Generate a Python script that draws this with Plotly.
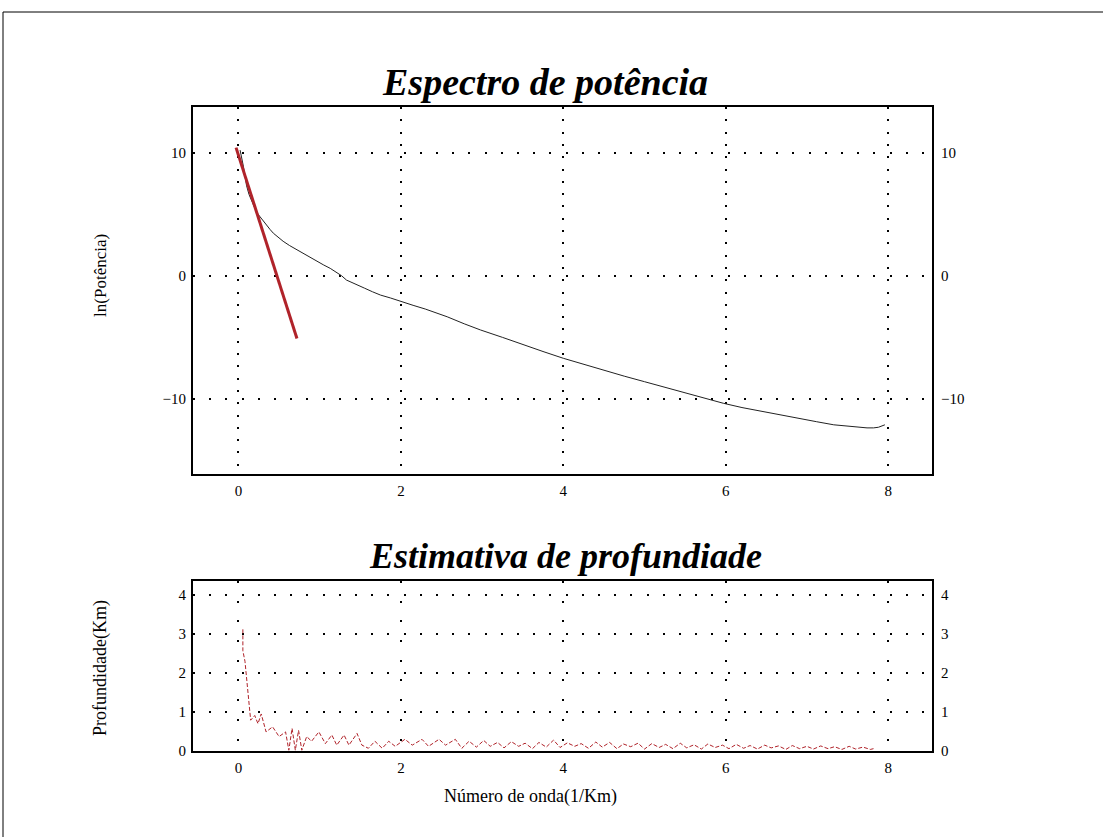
import plotly.graph_objects as go

# ---- data ----
k_spec = [0.02, 0.04, 0.06, 0.08, 0.10, 0.13, 0.16, 0.20, 0.24, 0.27, 0.31, 0.35, 0.39, 0.43, 0.49,
          0.55, 0.63, 0.72, 0.81, 0.90, 0.98, 1.05, 1.13, 1.20, 1.27, 1.33, 1.44, 1.55, 1.65, 1.75,
          1.87, 2.00, 2.15, 2.30, 2.45, 2.57, 2.78, 2.98, 3.25, 3.50, 3.75, 4.00, 4.25, 4.50, 4.75,
          5.00, 5.25, 5.50, 5.75, 5.97, 6.20, 6.43, 6.68, 6.92, 7.12, 7.33, 7.55, 7.74, 7.82, 7.88, 7.96]
lnP = [10.2, 9.6, 8.9, 8.1, 7.3, 6.6, 6.1, 5.5, 5.0, 4.75, 4.35, 4.05, 3.75, 3.45, 3.1,
       2.8, 2.45, 2.1, 1.8, 1.45, 1.15, 0.87, 0.6, 0.3, 0.0, -0.35, -0.65, -1.0, -1.3, -1.57,
       -1.8, -2.1, -2.4, -2.7, -3.05, -3.33, -3.9, -4.4, -5.0, -5.6, -6.15, -6.7, -7.2, -7.7, -8.15,
       -8.6, -9.05, -9.5, -9.95, -10.35, -10.7, -11.0, -11.3, -11.6, -11.85, -12.1, -12.25, -12.35, -12.35, -12.3, -12.1]

fit_k = [-0.03, 0.72]
fit_lnP = [10.4, -5.1]

k_depth = [0.054, 0.054, 0.08, 0.12, 0.15, 0.20, 0.24, 0.28, 0.34, 0.42, 0.50, 0.58, 0.62, 0.66, 0.70,
           0.74, 0.78, 0.84, 0.90, 0.99, 1.07, 1.15, 1.21, 1.30, 1.36, 1.46, 1.52, 1.60, 1.68, 1.77,
           1.85, 1.93, 2.05, 2.14, 2.26, 2.34, 2.47, 2.55, 2.67, 2.75, 2.84, 2.93, 3.02, 3.10, 3.19,
           3.27, 3.36, 3.45, 3.53, 3.62, 3.70, 3.79, 3.88, 3.96, 4.05, 4.14, 4.22, 4.31, 4.40, 4.48,
           4.57, 4.66, 4.74, 4.83, 4.92, 5.00, 5.09, 5.18, 5.26, 5.35, 5.44, 5.52, 5.61, 5.70, 5.78,
           5.87, 5.96, 6.04, 6.13, 6.22, 6.30, 6.39, 6.48, 6.56, 6.65, 6.74, 6.82, 6.91, 7.00, 7.08,
           7.17, 7.26, 7.34, 7.43, 7.52, 7.60, 7.69, 7.78, 7.82]
depth = [3.12, 2.57, 2.3, 1.47, 0.79, 0.91, 0.70, 0.95, 0.49, 0.62, 0.37, 0.49, 0.02, 0.58, 0.02,
         0.53, 0.02, 0.37, 0.25, 0.49, 0.19, 0.41, 0.15, 0.41, 0.15, 0.45, 0.15, 0.07, 0.25, 0.07,
         0.25, 0.12, 0.30, 0.15, 0.30, 0.12, 0.30, 0.15, 0.30, 0.07, 0.25, 0.10, 0.27, 0.12, 0.22,
         0.08, 0.24, 0.12, 0.20, 0.06, 0.22, 0.10, 0.28, 0.09, 0.21, 0.12, 0.19, 0.07, 0.23, 0.10,
         0.22, 0.06, 0.18, 0.11, 0.20, 0.05, 0.19, 0.09, 0.17, 0.06, 0.20, 0.08, 0.16, 0.05, 0.18,
         0.09, 0.15, 0.06, 0.17, 0.07, 0.14, 0.05, 0.15, 0.08, 0.13, 0.04, 0.14, 0.06, 0.12, 0.05,
         0.13, 0.06, 0.11, 0.04, 0.12, 0.05, 0.10, 0.04, 0.06]

x_ticks = [0, 2, 4, 6, 8]
y1_ticks = [-10, 0, 10]
y2_ticks = [0, 1, 2, 3, 4]

title1 = "Espectro de potência"
title2 = "Estimativa de profundiade"
xlabel = "Número de onda(1/Km)"
ylabel1 = "ln(Potência)"
ylabel2 = "Profundidade(Km)"

# ---- figure ----
SERIF = "Liberation Serif"
RED = "#b0232a"

fig = go.Figure()
fig.add_trace(go.Scatter(x=k_spec, y=lnP, mode="lines", line=dict(color="#222222", width=1),
                         xaxis="x", yaxis="y", showlegend=False, hoverinfo="skip"))
fig.add_trace(go.Scatter(x=fit_k, y=fit_lnP, mode="lines", line=dict(color=RED, width=3),
                         xaxis="x", yaxis="y", showlegend=False, hoverinfo="skip"))
fig.add_trace(go.Scatter(x=k_depth, y=depth, mode="lines",
                         line=dict(color=RED, width=1, dash="4px,2px"),
                         xaxis="x2", yaxis="y2", showlegend=False, hoverinfo="skip"))
# invisible traces so the right-hand mirrored axes render
fig.add_trace(go.Scatter(x=[x_ticks[0]], y=[y1_ticks[0]], mode="markers", marker=dict(opacity=0),
                         xaxis="x", yaxis="y3", showlegend=False, hoverinfo="skip"))
fig.add_trace(go.Scatter(x=[x_ticks[0]], y=[y2_ticks[0]], mode="markers", marker=dict(opacity=0),
                         xaxis="x2", yaxis="y4", showlegend=False, hoverinfo="skip"))

tickfont = dict(family=SERIF, size=15, color="black")
xr = [-0.56, 8.54]
y1r = [-16.1, 13.7]
y2r = [0, 4.36]

common_x = dict(tickvals=x_ticks, showline=True, mirror=True, linecolor="black", linewidth=2,
                showgrid=True, gridcolor="black", gridwidth=2, zeroline=False, ticks="",
                tickfont=tickfont, range=xr, fixedrange=True, ticklabelstandoff=2)

fig.update_layout(
    width=1103, height=837,
    margin=dict(l=193, r=171, t=107, b=86),
    paper_bgcolor="white", plot_bgcolor="white",
    xaxis=dict(domain=[0, 1], anchor="y", griddash="2px,10.3px", **common_x),
    xaxis2=dict(domain=[0, 1], anchor="y2", griddash="2px,17.7px", **common_x),
    yaxis=dict(domain=[0.430, 1], anchor="x", range=y1r, tickvals=y1_ticks, showline=True,
               mirror=True, linecolor="black", linewidth=2, showgrid=True, gridcolor="black",
               gridwidth=2, griddash="2px,14.2px", zeroline=False, ticks="", tickfont=tickfont,
               fixedrange=True, ticklabelstandoff=2),
    yaxis2=dict(domain=[0, 0.264], anchor="x2", range=y2r, tickvals=y2_ticks, showline=True,
                mirror=True, linecolor="black", linewidth=2, showgrid=True, gridcolor="black",
                gridwidth=2, griddash="2px,14.2px", zeroline=False, ticks="", tickfont=tickfont,
                fixedrange=True, ticklabelstandoff=2),
    yaxis3=dict(overlaying="y", anchor="x", side="right", range=y1r, tickvals=y1_ticks,
                showgrid=False, zeroline=False, showline=False, ticks="", tickfont=tickfont,
                fixedrange=True, ticklabelstandoff=8),
    yaxis4=dict(overlaying="y2", anchor="x2", side="right", range=y2r, tickvals=y2_ticks,
                showgrid=False, zeroline=False, showline=False, ticks="", tickfont=tickfont,
                fixedrange=True, ticklabelstandoff=8),
)

ann = []
ann.append(dict(text="<b><i>" + title1 + "</i></b>", x=(545 - 193) / 739, y=1.0388, xref="paper",
                yref="paper", showarrow=False, xanchor="center", yanchor="middle",
                font=dict(family=SERIF, size=38, color="black")))
ann.append(dict(text="<b><i>" + title2 + "</i></b>", x=(565 - 193) / 739, y=0.3028, xref="paper",
                yref="paper", showarrow=False, xanchor="center", yanchor="middle",
                font=dict(family=SERIF, size=36, color="black")))
ann.append(dict(text=xlabel, x=0.457, y=-0.0699, xref="paper", yref="paper", showarrow=False,
                xanchor="center", yanchor="middle", font=dict(family=SERIF, size=18, color="black")))
ann.append(dict(text=ylabel1, x=-0.126, y=(751 - 275) / 644, xref="paper", yref="paper",
                showarrow=False, textangle=-90, xanchor="center", yanchor="middle",
                font=dict(family=SERIF, size=17, color="black")))
ann.append(dict(text=ylabel2, x=-0.126, y=(751 - 668) / 644, xref="paper", yref="paper",
                showarrow=False, textangle=-90, xanchor="center", yanchor="middle",
                font=dict(family=SERIF, size=18, color="black")))
fig.update_layout(annotations=ann)

# page frame
fig.add_shape(type="rect", xref="paper", yref="paper",
              x0=(3 - 193) / 739, x1=(1110 - 193) / 739,
              y0=(751 - 845) / 644, y1=(751 - 12) / 644,
              line=dict(color="black", width=1), fillcolor="rgba(0,0,0,0)", layer="below")

fig.write_html("out.html")
